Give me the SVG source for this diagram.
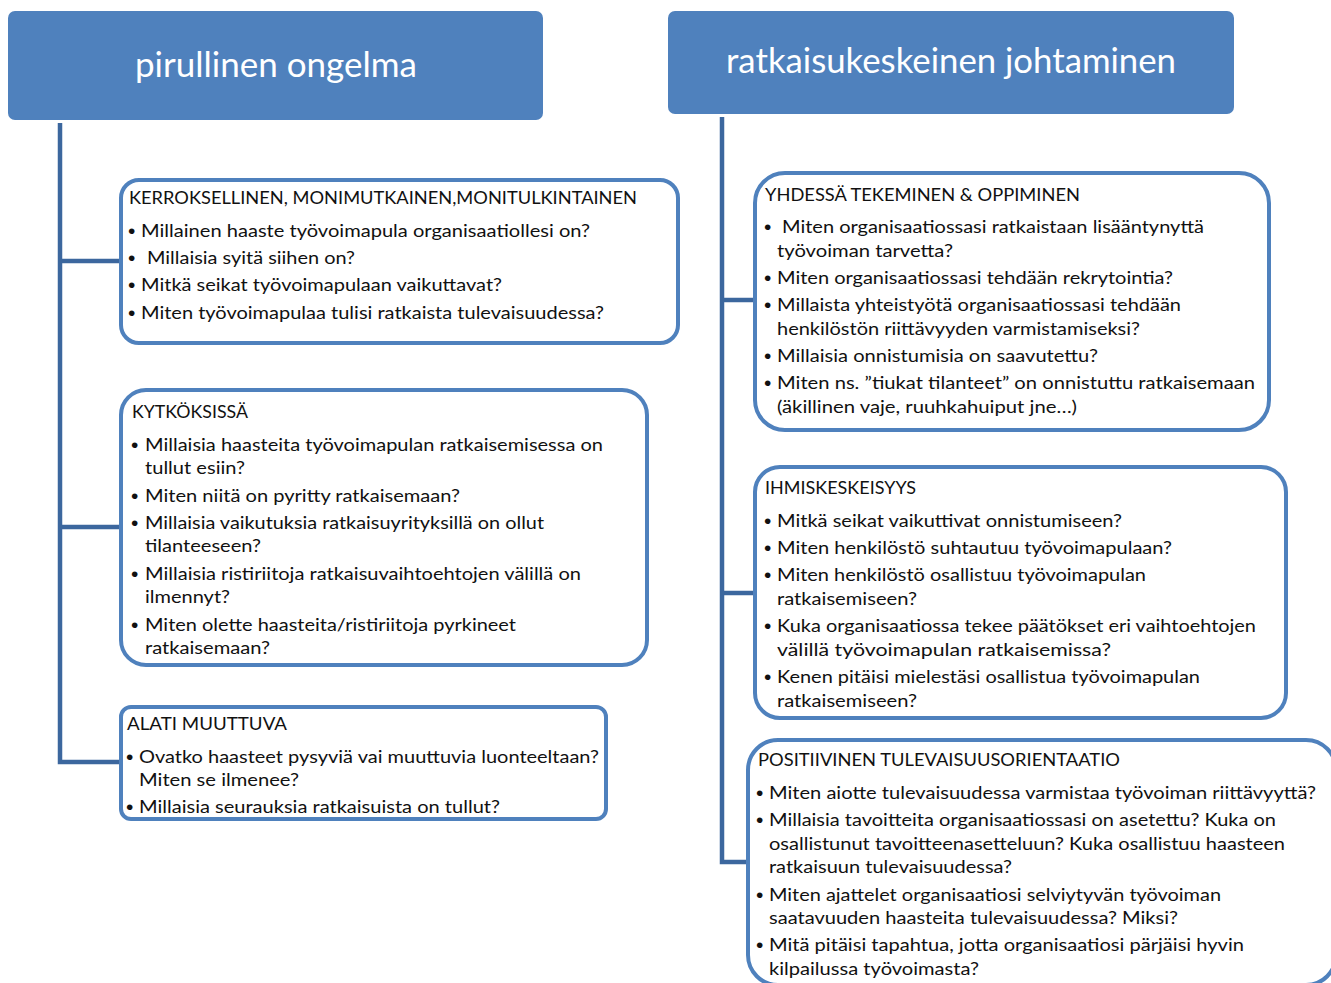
<svg xmlns="http://www.w3.org/2000/svg" width="1331" height="983" viewBox="0 0 1331 983">
  <style>
    .hdr { fill: #4F81BD; }
    .hdr-t { fill: #ffffff; font-family: Lato, "Open Sans", "Liberation Sans", sans-serif; font-size: 34px; text-anchor: middle; }
    .box { fill: #ffffff; stroke: #4F81BD; stroke-width: 4; }
    .t { fill: #111111; font-family: Lato, "Open Sans", "Liberation Sans", sans-serif; font-size: 18px; }
    .b { fill: #111111; font-family: "Liberation Sans", sans-serif; font-size: 21px; }
    .conn { fill: none; stroke: #3C679E; stroke-width: 4.5; stroke-linejoin: miter; }
  </style>

  <!-- connectors -->
  <g id="connectors">
    <path class="conn" d="M60,123 V762 H120"/>
    <path class="conn" d="M60,261 H120"/>
    <path class="conn" d="M60,527 H120"/>
    <path class="conn" d="M722,117 V862 H747"/>
    <path class="conn" d="M722,300 H754"/>
    <path class="conn" d="M722,593 H754"/>
  </g>

  <!-- left column header -->
  <g id="pirullinen-ongelma">
    <rect class="hdr" x="8" y="11" width="535" height="109" rx="7"/>
    <text class="hdr-t" x="276" y="77" textLength="282" lengthAdjust="spacingAndGlyphs">pirullinen ongelma</text>
  </g>

  <!-- right column header -->
  <g id="ratkaisukeskeinen-johtaminen">
    <rect class="hdr" x="668" y="11" width="566" height="103" rx="7"/>
    <text class="hdr-t" x="951" y="73" textLength="450" lengthAdjust="spacingAndGlyphs">ratkaisukeskeinen johtaminen</text>
  </g>

  <g id="kerroksellinen">
    <rect class="box" x="121" y="180" width="557" height="163" rx="18"/>
    <text class="t" x="129" y="204" textLength="508" lengthAdjust="spacingAndGlyphs">KERROKSELLINEN, MONIMUTKAINEN,MONITULKINTAINEN</text>
    <text class="b" x="128" y="238">•</text>
    <text class="t" x="141" y="237" textLength="449" lengthAdjust="spacingAndGlyphs">Millainen haaste työvoimapula organisaatiollesi on?</text>
    <text class="b" x="128" y="265">•</text>
    <text class="t" x="147" y="264" textLength="208" lengthAdjust="spacingAndGlyphs">Millaisia syitä siihen on?</text>
    <text class="b" x="128" y="292">•</text>
    <text class="t" x="141" y="291" textLength="361" lengthAdjust="spacingAndGlyphs">Mitkä seikat työvoimapulaan vaikuttavat?</text>
    <text class="b" x="128" y="320">•</text>
    <text class="t" x="141" y="319" textLength="463" lengthAdjust="spacingAndGlyphs">Miten työvoimapulaa tulisi ratkaista tulevaisuudessa?</text>
  </g>

  <g id="kytkoksissa">
    <rect class="box" x="121" y="390" width="526" height="275" rx="25"/>
    <text class="t" x="132" y="418" textLength="116" lengthAdjust="spacingAndGlyphs">KYTKÖKSISSÄ</text>
    <text class="b" x="131" y="452">•</text>
    <text class="t" x="145" y="451" textLength="458" lengthAdjust="spacingAndGlyphs">Millaisia haasteita työvoimapulan ratkaisemisessa on</text>
    <text class="t" x="145" y="474" textLength="100" lengthAdjust="spacingAndGlyphs">tullut esiin?</text>
    <text class="b" x="131" y="503">•</text>
    <text class="t" x="145" y="502" textLength="315" lengthAdjust="spacingAndGlyphs">Miten niitä on pyritty ratkaisemaan?</text>
    <text class="b" x="131" y="530">•</text>
    <text class="t" x="145" y="529" textLength="399" lengthAdjust="spacingAndGlyphs">Millaisia vaikutuksia ratkaisuyrityksillä on ollut</text>
    <text class="t" x="145" y="552" textLength="116" lengthAdjust="spacingAndGlyphs">tilanteeseen?</text>
    <text class="b" x="131" y="581">•</text>
    <text class="t" x="145" y="580" textLength="436" lengthAdjust="spacingAndGlyphs">Millaisia ristiriitoja ratkaisuvaihtoehtojen välillä on</text>
    <text class="t" x="145" y="603" textLength="85" lengthAdjust="spacingAndGlyphs">ilmennyt?</text>
    <text class="b" x="131" y="632">•</text>
    <text class="t" x="145" y="631" textLength="371" lengthAdjust="spacingAndGlyphs">Miten olette haasteita/ristiriitoja pyrkineet</text>
    <text class="t" x="145" y="654" textLength="125" lengthAdjust="spacingAndGlyphs">ratkaisemaan?</text>
  </g>

  <g id="alati-muuttuva">
    <rect class="box" x="121" y="707" width="485" height="112" rx="10"/>
    <text class="t" x="127" y="730" textLength="160" lengthAdjust="spacingAndGlyphs">ALATI MUUTTUVA</text>
    <text class="b" x="126" y="764">•</text>
    <text class="t" x="139" y="763" textLength="460" lengthAdjust="spacingAndGlyphs">Ovatko haasteet pysyviä vai muuttuvia luonteeltaan?</text>
    <text class="t" x="139" y="786" textLength="160" lengthAdjust="spacingAndGlyphs">Miten se ilmenee?</text>
    <text class="b" x="126" y="814">•</text>
    <text class="t" x="139" y="813" textLength="361" lengthAdjust="spacingAndGlyphs">Millaisia seurauksia ratkaisuista on tullut?</text>
  </g>

  <g id="yhdessa-tekeminen">
    <rect class="box" x="755" y="173" width="514" height="257" rx="30"/>
    <text class="t" x="765" y="201" textLength="315" lengthAdjust="spacingAndGlyphs">YHDESSÄ TEKEMINEN &amp; OPPIMINEN</text>
    <text class="b" x="764" y="234">•</text>
    <text class="t" x="782" y="233" textLength="422" lengthAdjust="spacingAndGlyphs">Miten organisaatiossasi ratkaistaan lisääntynyttä</text>
    <text class="t" x="777" y="257" textLength="176" lengthAdjust="spacingAndGlyphs">työvoiman tarvetta?</text>
    <text class="b" x="764" y="285">•</text>
    <text class="t" x="777" y="284" textLength="396" lengthAdjust="spacingAndGlyphs">Miten organisaatiossasi tehdään rekrytointia?</text>
    <text class="b" x="764" y="312">•</text>
    <text class="t" x="777" y="311" textLength="404" lengthAdjust="spacingAndGlyphs">Millaista yhteistyötä organisaatiossasi tehdään</text>
    <text class="t" x="777" y="335" textLength="363" lengthAdjust="spacingAndGlyphs">henkilöstön riittävyyden varmistamiseksi?</text>
    <text class="b" x="764" y="363">•</text>
    <text class="t" x="777" y="362" textLength="321" lengthAdjust="spacingAndGlyphs">Millaisia onnistumisia on saavutettu?</text>
    <text class="b" x="764" y="390">•</text>
    <text class="t" x="777" y="389" textLength="478" lengthAdjust="spacingAndGlyphs">Miten ns. ”tiukat tilanteet” on onnistuttu ratkaisemaan</text>
    <text class="t" x="777" y="413" textLength="300" lengthAdjust="spacingAndGlyphs">(äkillinen vaje, ruuhkahuiput jne…)</text>
  </g>

  <g id="ihmiskeskeisyys">
    <rect class="box" x="755" y="467" width="531" height="251" rx="25"/>
    <text class="t" x="765" y="494" textLength="151" lengthAdjust="spacingAndGlyphs">IHMISKESKEISYYS</text>
    <text class="b" x="764" y="528">•</text>
    <text class="t" x="777" y="527" textLength="345" lengthAdjust="spacingAndGlyphs">Mitkä seikat vaikuttivat onnistumiseen?</text>
    <text class="b" x="764" y="555">•</text>
    <text class="t" x="777" y="554" textLength="395" lengthAdjust="spacingAndGlyphs">Miten henkilöstö suhtautuu työvoimapulaan?</text>
    <text class="b" x="764" y="582">•</text>
    <text class="t" x="777" y="581" textLength="369" lengthAdjust="spacingAndGlyphs">Miten henkilöstö osallistuu työvoimapulan</text>
    <text class="t" x="777" y="605" textLength="140" lengthAdjust="spacingAndGlyphs">ratkaisemiseen?</text>
    <text class="b" x="764" y="633">•</text>
    <text class="t" x="777" y="632" textLength="479" lengthAdjust="spacingAndGlyphs">Kuka organisaatiossa tekee päätökset eri vaihtoehtojen</text>
    <text class="t" x="777" y="656" textLength="334" lengthAdjust="spacingAndGlyphs">välillä työvoimapulan ratkaisemissa?</text>
    <text class="b" x="764" y="684">•</text>
    <text class="t" x="777" y="683" textLength="423" lengthAdjust="spacingAndGlyphs">Kenen pitäisi mielestäsi osallistua työvoimapulan</text>
    <text class="t" x="777" y="707" textLength="140" lengthAdjust="spacingAndGlyphs">ratkaisemiseen?</text>
  </g>

  <g id="positiivinen-tulevaisuusorientaatio">
    <rect class="box" x="748" y="740" width="588" height="245" rx="30"/>
    <text class="t" x="758" y="766" textLength="362" lengthAdjust="spacingAndGlyphs">POSITIIVINEN TULEVAISUUSORIENTAATIO</text>
    <text class="b" x="756" y="800">•</text>
    <text class="t" x="769" y="799" textLength="547" lengthAdjust="spacingAndGlyphs">Miten aiotte tulevaisuudessa varmistaa työvoiman riittävyyttä?</text>
    <text class="b" x="756" y="827">•</text>
    <text class="t" x="769" y="826" textLength="507" lengthAdjust="spacingAndGlyphs">Millaisia tavoitteita organisaatiossasi on asetettu? Kuka on</text>
    <text class="t" x="769" y="850" textLength="516" lengthAdjust="spacingAndGlyphs">osallistunut tavoitteenasetteluun? Kuka osallistuu haasteen</text>
    <text class="t" x="769" y="873" textLength="243" lengthAdjust="spacingAndGlyphs">ratkaisuun tulevaisuudessa?</text>
    <text class="b" x="756" y="902">•</text>
    <text class="t" x="769" y="901" textLength="452" lengthAdjust="spacingAndGlyphs">Miten ajattelet organisaatiosi selviytyvän työvoiman</text>
    <text class="t" x="769" y="924" textLength="409" lengthAdjust="spacingAndGlyphs">saatavuuden haasteita tulevaisuudessa? Miksi?</text>
    <text class="b" x="756" y="952">•</text>
    <text class="t" x="769" y="951" textLength="475" lengthAdjust="spacingAndGlyphs">Mitä pitäisi tapahtua, jotta organisaatiosi pärjäisi hyvin</text>
    <text class="t" x="769" y="975" textLength="210" lengthAdjust="spacingAndGlyphs">kilpailussa työvoimasta?</text>
  </g>
</svg>
